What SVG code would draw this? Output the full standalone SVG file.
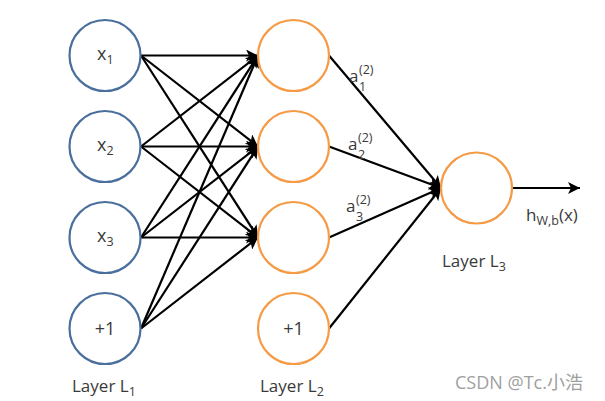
<svg xmlns="http://www.w3.org/2000/svg" width="605" height="401" viewBox="0 0 605 401">
<style>
.in{fill:#fff;stroke:#4a6f9c;stroke-width:2.2}
.hid{fill:#fff;stroke:#f59a45;stroke-width:2.2}
.t{font-family:"Open Sans","Liberation Sans",sans-serif;fill:#3a3a3a;font-size:18px}
.s{font-size:12.5px}
.c line{stroke:#000;stroke-width:2.2;marker-end:url(#ah)}
.lbl{font-family:"Open Sans","Liberation Sans",sans-serif;fill:#3a3a3a;font-size:17px}
</style>
<defs>
<marker id="ah" markerUnits="userSpaceOnUse" markerWidth="14" markerHeight="12" refX="12" refY="6" orient="auto">
<path d="M0,0 L12,6 L0,12 L3,6 Z" fill="#000"/>
</marker>
</defs>
<rect width="605" height="401" fill="#fff"/>
<g id="connectors" class="c">
<line x1="141" y1="55.5" x2="258" y2="55.5"/>
<line x1="141" y1="55.5" x2="258" y2="146.5"/>
<line x1="141" y1="55.5" x2="258" y2="237.5"/>
<line x1="141" y1="146.5" x2="258" y2="55.5"/>
<line x1="141" y1="146.5" x2="258" y2="146.5"/>
<line x1="141" y1="146.5" x2="258" y2="237.5"/>
<line x1="141" y1="237.5" x2="258" y2="55.5"/>
<line x1="141" y1="237.5" x2="258" y2="146.5"/>
<line x1="141" y1="237.5" x2="258" y2="237.5"/>
<line x1="141" y1="328.5" x2="258" y2="55.5"/>
<line x1="141" y1="328.5" x2="258" y2="146.5"/>
<line x1="141" y1="328.5" x2="258" y2="237.5"/>
<line x1="329" y1="55.5" x2="441" y2="188"/>
<line x1="329" y1="146.5" x2="441" y2="188"/>
<line x1="329" y1="237.5" x2="441" y2="188"/>
<line x1="329" y1="328.5" x2="441" y2="188"/>
<line x1="512" y1="188" x2="580" y2="188"/>
</g>
<g id="x1"><circle class="in" cx="105" cy="55.5" r="35.5"/><text class="t" x="97" y="60">x<tspan class="s" dy="4">1</tspan></text></g>
<g id="x2"><circle class="in" cx="105" cy="146.5" r="35.5"/><text class="t" x="97" y="151">x<tspan class="s" dy="4">2</tspan></text></g>
<g id="x3"><circle class="in" cx="105" cy="237.5" r="35.5"/><text class="t" x="97" y="242">x<tspan class="s" dy="4">3</tspan></text></g>
<g id="b1"><circle class="in" cx="105" cy="328.5" r="35.5"/><text class="t" x="105" y="335" text-anchor="middle">+1</text></g>
<g id="a1"><circle class="hid" cx="293.5" cy="55.5" r="35.5"/></g>
<g id="a2"><circle class="hid" cx="293.5" cy="146.5" r="35.5"/></g>
<g id="a3"><circle class="hid" cx="293.5" cy="237.5" r="35.5"/></g>
<g id="b2"><circle class="hid" cx="293.5" cy="328.5" r="35.5"/><text class="t" x="293.5" y="335" text-anchor="middle">+1</text></g>
<g id="out"><circle class="hid" cx="476.5" cy="188" r="35.5"/></g>
<g id="labels">
<text class="lbl" x="349" y="82">a<tspan class="s" x="359" y="91">1</tspan><tspan class="s" x="359" y="74">(2)</tspan></text>
<text class="lbl" x="348" y="150">a<tspan class="s" x="358" y="159">2</tspan><tspan class="s" x="358" y="142">(2)</tspan></text>
<text class="lbl" x="346" y="212">a<tspan class="s" x="356" y="221">3</tspan><tspan class="s" x="356" y="204">(2)</tspan></text>
<text class="lbl" x="526" y="221">h<tspan class="s" dy="4">W,b</tspan><tspan dy="-4">(x)</tspan></text>
<text class="lbl" x="72" y="392">Layer L<tspan class="s" dy="4">1</tspan></text>
<text class="lbl" x="260" y="392">Layer L<tspan class="s" dy="4">2</tspan></text>
<text class="lbl" x="442" y="267">Layer L<tspan class="s" dy="4">3</tspan></text>
<text x="455" y="389" font-family="'Open Sans','Liberation Sans','Noto Sans CJK SC',sans-serif" font-size="18" fill="#a0a0a0">CSDN @Tc.小浩</text>
</g>
</svg>
